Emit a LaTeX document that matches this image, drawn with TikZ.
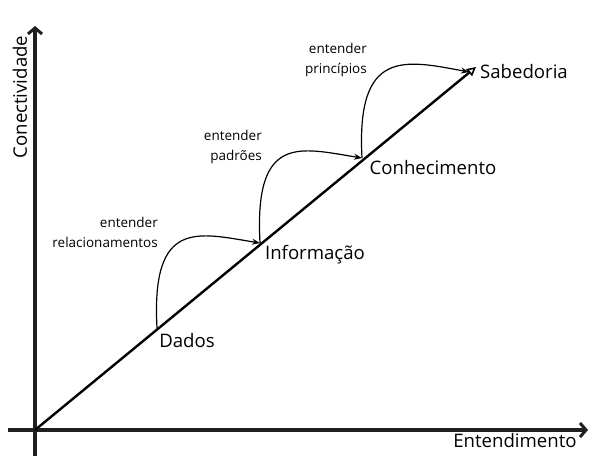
\documentclass[tikz,border=0pt]{standalone}
\usepackage{fontspec}
\setmainfont{Open Sans}
\usetikzlibrary{arrows.meta}
\begin{document}
\begin{tikzpicture}[x=1pt,y=-1pt,
  axis/.style={line width=3.6pt,color=black!88,-{Straight Barb[length=6pt,width=14pt,line width=3pt]}},
  diag/.style={line width=2.4pt,-{Triangle[open,length=9pt,width=9pt,line width=1.6pt]}},
  curve/.style={line width=1.2pt,-{Stealth[length=8pt,width=6pt]}},
  big/.style={font=\fontsize{18.6}{20}\selectfont,inner sep=0pt},
  small/.style={font=\fontsize{13.5}{20}\selectfont,align=right,inner sep=0pt}]
\useasboundingbox (0,0) rectangle (600,465);
\coordinate (xs) at (8,430);
\coordinate (xe) at (588,430);
\coordinate (ys) at (35,456);
\coordinate (ye) at (35,26);
\coordinate (o) at (35,430);
\coordinate (d) at (157,328);
\coordinate (i) at (260,243);
\coordinate (c) at (362,158);
\coordinate (s) at (476,67);
\coordinate (se) at (469,72);
\draw[axis] (xs) -- (xe);
\draw[axis] (ys) -- (ye);
\draw[diag] (o) -- (s);
\draw[curve] (d) .. controls ++(-6,-110) and ++(-62,-10) .. (i);
\draw[curve] (i) .. controls ++(-6,-110) and ++(-62,-10) .. (c);
\draw[curve] (c) .. controls ++(-6,-110) and ++(-64,-12) .. (se);
\node[big] (n1) at (187,341) {Dados};
\node[big] (n2) at (315,255) {Informação};
\node[big] (n3) at (433,168) {Conhecimento};
\node[big] (n4) at (524,72) {Sabedoria};
\node[big] (ex) at (515,441) {Entendimento};
\node[big,rotate=90] (ey) at (20,97) {Conectividade};
\node[small,anchor=east] (l1) at (158,232) {entender\\relacionamentos};
\node[small,anchor=east] (l2) at (262,147) {entender\\padrões};
\node[small,anchor=east] (l3) at (367,60) {entender\\princípios};
\end{tikzpicture}
\end{document}
